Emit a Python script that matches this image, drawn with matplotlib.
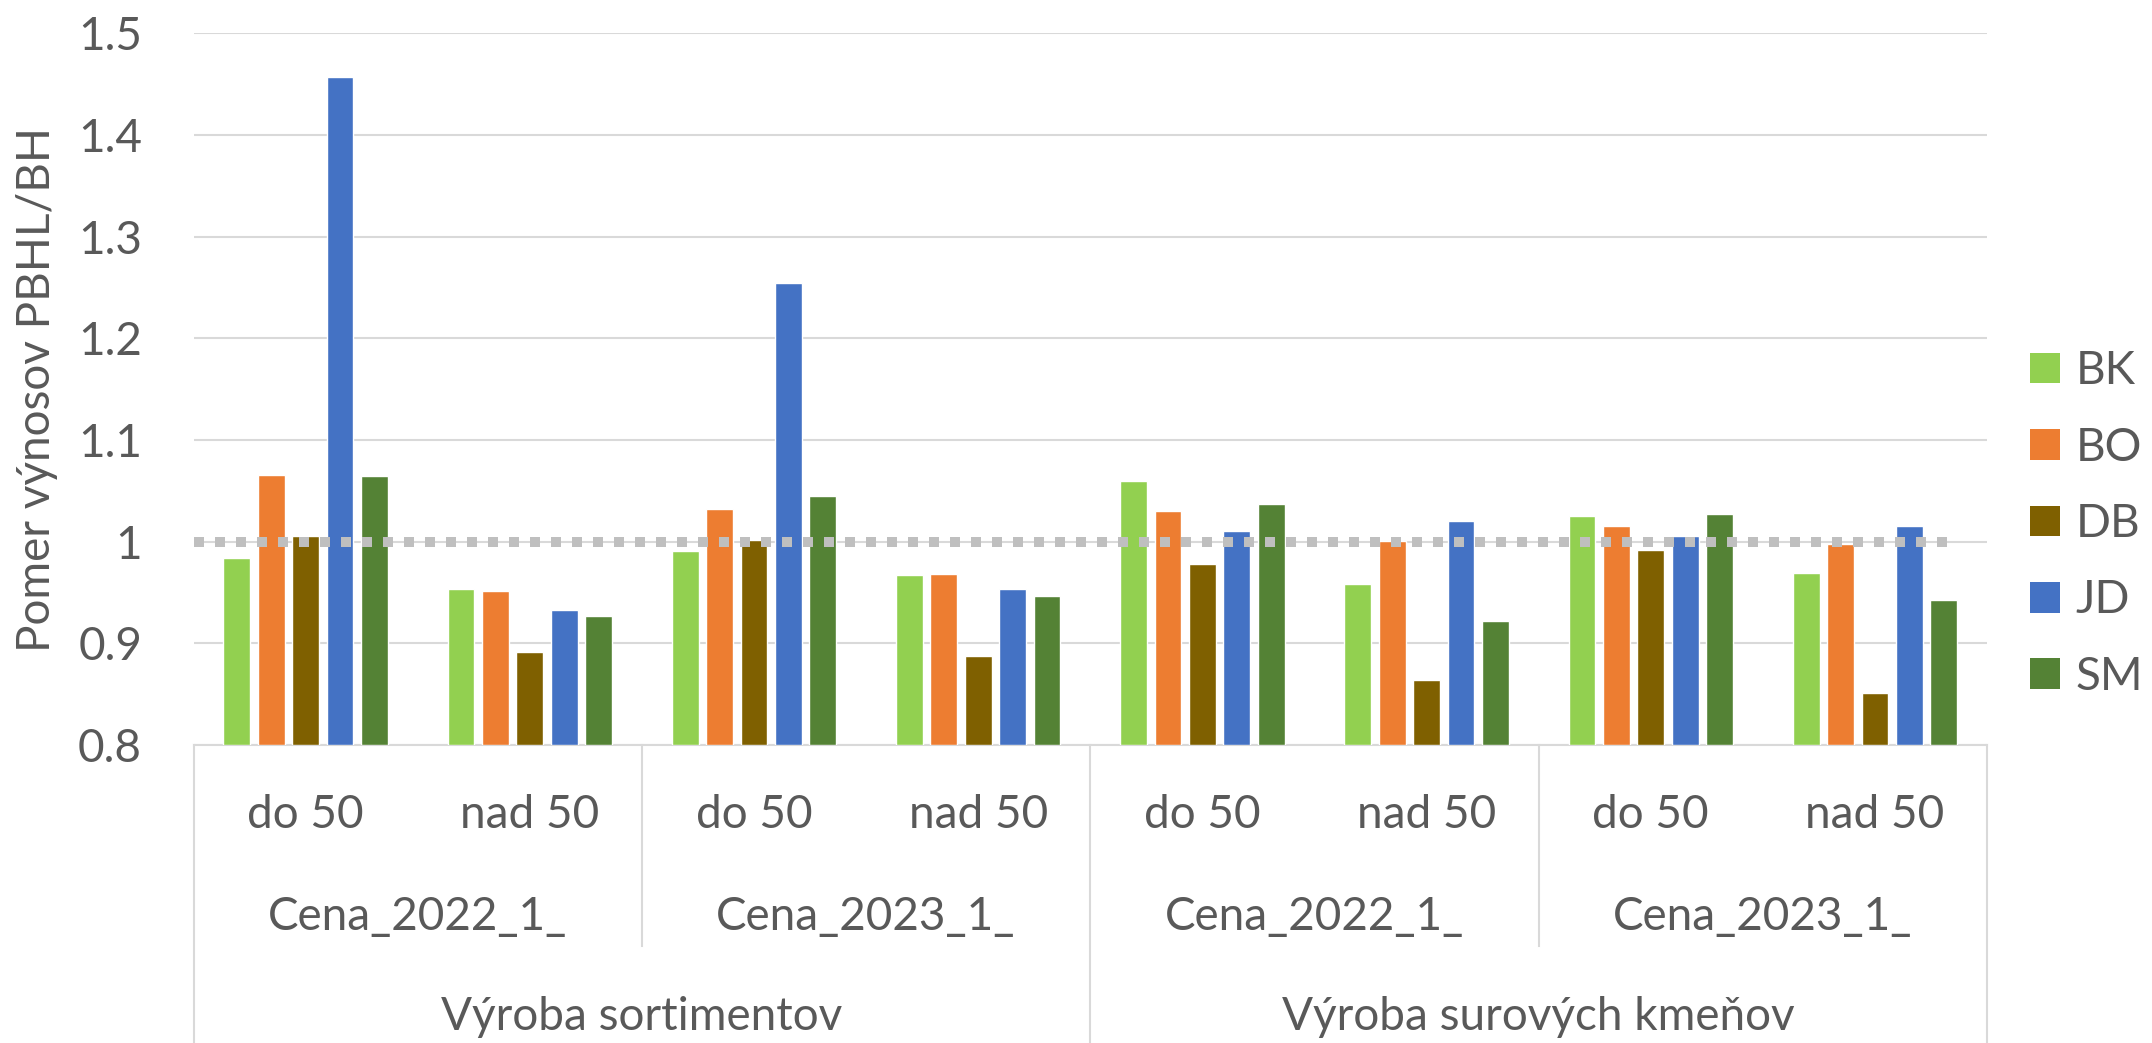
import numpy as np
import matplotlib.pyplot as plt
from matplotlib.patches import Patch

# data
series = ["BK", "BO", "DB", "JD", "SM"]
colors = ["#92D050", "#ED7D31", "#7F6000", "#4472C4", "#548235"]
sub_labels = ["do 50", "nad 50"] * 4
mid_labels = ["Cena_2022_1_", "Cena_2023_1_", "Cena_2022_1_", "Cena_2023_1_"]
top_labels = ["Výroba sortimentov", "Výroba surových kmeňov"]

bk = [0.984, 0.953, 0.991, 0.967, 1.060, 0.958, 1.025, 0.969]
bo = [1.066, 0.951, 1.032, 0.968, 1.030, 1.001, 1.015, 0.998]
db = [1.006, 0.891, 1.002, 0.888, 0.978, 0.864, 0.992, 0.851]
jd = [1.457, 0.933, 1.254, 0.953, 1.010, 1.020, 1.006, 1.015]
sm = [1.065, 0.927, 1.045, 0.947, 1.037, 0.922, 1.027, 0.943]
values = [bk, bo, db, jd, sm]

yticks = [0.8, 0.9, 1.0, 1.1, 1.2, 1.3, 1.4, 1.5]
ytick_labels = ["0.8", "0.9", "1", "1.1", "1.2", "1.3", "1.4", "1.5"]

txt = "#595959"
grid = "#D9D9D9"
fs = 33
plt.rcParams["font.family"] = ["Lato", "DejaVu Sans"]

W, H = 2152, 1043
fig = plt.figure(figsize=(W / 100, H / 100), dpi=100)
ax_left, ax_right, ax_top, ax_bot = 193.5, 1987, 33.3, 745
ax = fig.add_axes([ax_left / W, 1 - ax_bot / H, (ax_right - ax_left) / W, (ax_bot - ax_top) / H])

x = np.arange(8)
step = 0.1534
width = 0.1195
for i, (name, vals) in enumerate(zip(series, values)):
    ax.bar(x + (i - 2) * step, np.array(vals) - 0.8, bottom=0.8, width=width,
           color=colors[i], edgecolor="white", linewidth=1, label=name, zorder=3)

# reference line at 1
ax.plot([-0.5, 7.35], [1, 1], color="#BFBFBF", lw=7.2, linestyle=(0, (1, 1.1)),
        dash_capstyle="butt", zorder=4)

ax.set_xlim(-0.5, 7.5)
ax.set_ylim(0.8, 1.5)
ax.set_yticks(yticks)
ax.set_yticklabels(ytick_labels)
ax.yaxis.grid(True, color=grid, lw=1.5, zorder=0)
ax.set_axisbelow(True)
ax.tick_params(axis="y", length=0, pad=37, labelsize=fs, labelcolor=txt)
ax.tick_params(axis="x", length=0, labelbottom=False)
for s in ["top", "right", "left"]:
    ax.spines[s].set_visible(False)
ax.spines["bottom"].set_color(grid)
ax.spines["bottom"].set_linewidth(1.5)

fig.text(37 / W, 1 - 389 / H, "Pomer výnosov PBHL/BH", rotation=90, fontsize=fs,
         color=txt, ha="center", va="center")

# multi-level category axis
trans = ax.get_xaxis_transform()
h = ax_bot - ax_top
def ay(py):
    return (ax_bot - py) / h

for i, lab in enumerate(sub_labels):
    ax.text(i, ay(828), lab, transform=trans, ha="center", va="baseline",
            fontsize=fs, color=txt)
for i, lab in enumerate(mid_labels):
    ax.text(2 * i + 0.5, ay(930), lab, transform=trans, ha="center", va="baseline",
            fontsize=fs, color=txt)
for i, lab in enumerate(top_labels):
    ax.text(4 * i + 1.5, ay(1030), lab, transform=trans, ha="center", va="baseline",
            fontsize=fs, color=txt)

for xb in [-0.5, 3.5, 7.5]:
    ax.plot([xb, xb], [0, ay(H)], transform=trans, color=grid, lw=1.5, clip_on=False)
for xb in [1.5, 5.5]:
    ax.plot([xb, xb], [0, ay(946)], transform=trans, color=grid, lw=1.5, clip_on=False)

handles = [Patch(facecolor=c, label=n) for c, n in zip(colors, series)]
leg = fig.legend(handles=handles, loc="center left", bbox_to_anchor=(2030 / W, 1 - 524 / H),
                 frameon=False, fontsize=fs, handlelength=0.65, handleheight=0.65,
                 handletextpad=0.35, labelspacing=0.75, borderpad=0, borderaxespad=0)
for t in leg.get_texts():
    t.set_color(txt)

fig.savefig("out.png", dpi=100)
